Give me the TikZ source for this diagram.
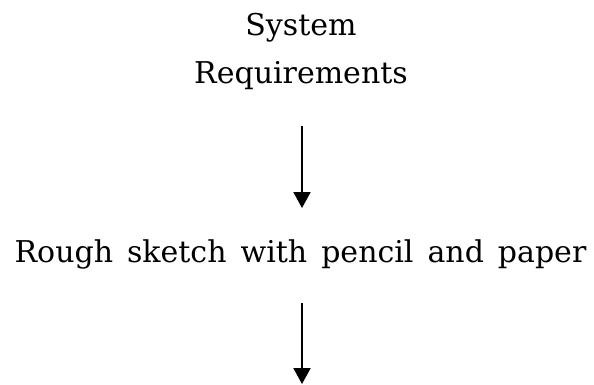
\documentclass[tikz,border=0pt]{standalone}
\usepackage{fontspec}
\setmainfont{DejaVu Serif}
\usetikzlibrary{arrows.meta}
\newcommand{\wsp}{\hspace{14pt}}
\begin{document}
\begin{tikzpicture}[x=1pt,y=-1pt,
  lbl/.style={anchor=base,inner sep=0pt,font=\fontsize{30}{36}\selectfont},
  arr/.style={line width=2pt,-{Triangle[length=16pt,width=17pt]}}]
\useasboundingbox (0,0) rectangle (594,384);
\node[lbl] (sys) at (301,35) {System};
\node[lbl] (req) at (301,83) {Requirements};
\node[lbl] (rough) at (300.5,262) {Rough\wsp sketch\wsp with\wsp pencil\wsp and\wsp paper};
\coordinate (a1s) at (302,126);
\coordinate (a1e) at (302,208);
\coordinate (a2s) at (302,303);
\coordinate (a2e) at (302,384);
\draw[arr] (a1s) -- (a1e);
\draw[arr] (a2s) -- (a2e);
\end{tikzpicture}
\end{document}
